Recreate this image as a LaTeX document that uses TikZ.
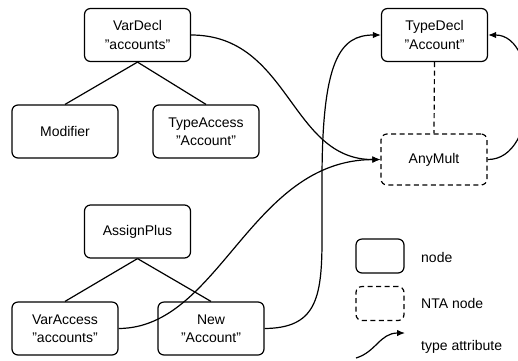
\documentclass[tikz,border=0pt]{standalone}
\usepackage{fontspec}
\setmainfont{Liberation Sans}
\usetikzlibrary{arrows.meta}

\tikzset{
  treenode/.style={draw, line width=1.2pt, rounded corners=6pt,
    minimum width=106pt, minimum height=53pt, align=center, inner sep=0pt,
    font=\fontsize{14}{18.5}\selectfont},
  ntanode/.style={treenode, dashed, dash pattern=on 5pt off 3.5pt},
  legendbox/.style={draw, line width=1.2pt, rounded corners=6pt,
    minimum width=48pt, minimum height=34pt, inner sep=0pt},
  legendnta/.style={legendbox, dash pattern=on 5pt off 3.5pt},
  legendtext/.style={anchor=west, inner sep=0pt, font=\fontsize{14}{17}\selectfont},
  child/.style={line width=1.2pt},
  attr/.style={line width=1.2pt, -{Latex[length=8pt,width=6.5pt]}},
  link/.style={line width=1.2pt, dash pattern=on 5pt off 3.5pt}
}

\begin{document}
\begin{tikzpicture}[x=1pt, y=-1pt]
  \useasboundingbox (0,0) rectangle (518,360);

  % first tree: variable declaration
  \node[treenode] (vardecl) at (137.5,35) {VarDecl\\"accounts"};
  \node[treenode] (modifier) at (65,131.5) {Modifier};
  \node[treenode] (typeaccess) at (206,131.5) {TypeAccess\\"Account"};

  % second tree: assignment
  \node[treenode] (assign) at (137.5,231.5) {AssignPlus};
  \node[treenode] (varaccess) at (65,328.5) {VarAccess\\"accounts"};
  \node[treenode] (new) at (211,328.5) {New\\"Account"};

  % type declaration and its NTA child
  \node[treenode] (typedecl) at (434.5,35) {TypeDecl\\"Account"};
  \node[ntanode, minimum height=51pt] (anymult) at (434,159.5) {AnyMult};

  % tree edges
  \draw[child] (vardecl.south) -- (modifier.north);
  \draw[child] (vardecl.south) -- (typeaccess.north);
  \draw[child] (assign.south) -- (varaccess.north);
  \draw[child] (assign.south) -- (new.north);
  \draw[link] (typedecl.south) -- (anymult.north);

  % type attribute connectors
  \coordinate (bendlow) at (322,240);
  \coordinate (bendhigh) at (322,180);
  \draw[attr] (vardecl.east) .. controls (290,35) and (290,160) .. (anymult.west);
  \draw[attr] (varaccess.east) .. controls (220,328) and (250,160) .. (anymult.west);
  \draw[attr] (new.east) .. controls (315,328) and (322,300) .. (bendlow)
     -- (bendhigh) .. controls (322,60) and (340,35) .. (typedecl.west);
  \draw[attr] (anymult.east) .. controls (540,160) and (540,35) .. (typedecl.east);

  % legend
  \node[legendbox] (lgnode) at (380,256) {};
  \node[legendtext] (lgnodetext) at (421,257) {node};
  \node[legendnta] (lgnta) at (380,303.5) {};
  \node[legendtext] (lgntatext) at (421,303.5) {NTA node};
  \coordinate (lgstart) at (356,358);
  \coordinate (lgend) at (405,333);
  \draw[attr] (lgstart) .. controls (376,352) and (380,333) .. (lgend);
  \node[legendtext] (lgattrtext) at (421,347) {type attribute};
\end{tikzpicture}
\end{document}
